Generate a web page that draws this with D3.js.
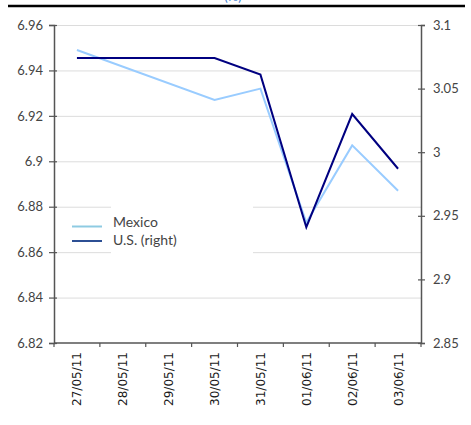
<!DOCTYPE html>
<html>
<head>
<meta charset="utf-8">
<script src="https://cdn.jsdelivr.net/npm/d3@7"></script>
<style>
  html, body { margin: 0; padding: 0; background: #fff; }
  svg { display: block; }
</style>
</head>
<body>
<svg id="chart" width="471" height="425"></svg>
<script>
// Daily dates (no quotes on the weekend of 28-29 May)
const dates = ["27/05/11", "28/05/11", "29/05/11", "30/05/11", "31/05/11", "01/06/11", "02/06/11", "03/06/11"];
const mexico = [6.949, null, null, 6.927, 6.932, 6.873, 6.907, 6.887];
const us = [3.074, null, null, 3.074, 3.061, 2.941, 3.030, 2.987];
const leftTicks = [6.82, 6.84, 6.86, 6.88, 6.9, 6.92, 6.94, 6.96];
const rightTicks = [2.85, 2.9, 2.95, 3, 3.05, 3.1];
const seriesNames = ["Mexico", "U.S. (right)"];
const colors = { mexico: "#99ccff", us: "#000080" };

const svg = d3.select("#chart");
const m = { left: 54, right: 421, top: 25, bottom: 343 };
const numFont = "Lato, 'Open Sans', sans-serif";

const x = d3.scaleBand().domain(dates).range([m.left, m.right]).padding(0);
const yL = d3.scaleLinear().domain([6.82, 6.96]).range([m.bottom, m.top]);
const yR = d3.scaleLinear().domain([2.85, 3.1]).range([m.bottom, m.top]);
const cx = d => x(d) + x.bandwidth() / 2;
const fmt = d => String(+d.toFixed(2));

// Header rule and partially visible heading
svg.append("text").attr("x", 233).attr("y", 0.5).attr("text-anchor", "middle")
  .attr("font-family", numFont).attr("font-size", 13).attr("fill", "#3f7fd0").text("(%)");
svg.append("line").attr("x1", 8).attr("x2", 465).attr("y1", 6).attr("y2", 6)
  .attr("stroke", "#000").attr("stroke-width", 2.5);

// Horizontal gridlines on the left-axis ticks
svg.append("g").selectAll("line").data(leftTicks.filter(t => t > 6.82)).join("line")
  .attr("x1", m.left).attr("x2", m.right)
  .attr("y1", d => yL(d) + 0.5).attr("y2", d => yL(d) + 0.5)
  .attr("stroke", "#dcdcdc").attr("stroke-width", 1);

// Left axis
const gL = svg.append("g").attr("transform", `translate(${m.left},0)`)
  .call(d3.axisLeft(yL).tickValues(leftTicks).tickFormat(fmt).tickSize(5).tickPadding(6));
gL.selectAll(".tick line").attr("x1", 3);
// Right axis
const gR = svg.append("g").attr("transform", `translate(${m.right},0)`)
  .call(d3.axisRight(yR).tickValues(rightTicks).tickFormat(fmt).tickSize(4).tickPadding(8));
gR.selectAll(".tick line").attr("x1", -3);
[gL, gR].forEach(g => {
  g.select(".domain").attr("stroke", "#555").attr("stroke-width", 1.5);
  g.selectAll(".tick line").attr("stroke", "#555").attr("stroke-width", 1.2);
  g.selectAll(".tick text").attr("font-family", numFont).attr("font-size", 13).attr("fill", "#444");
});

// Bottom axis: ticks on category boundaries, rotated labels in the band centres
svg.append("line").attr("x1", m.left).attr("x2", m.right).attr("y1", m.bottom).attr("y2", m.bottom)
  .attr("stroke", "#555").attr("stroke-width", 1.5);
const bounds = dates.map(d => x(d)).concat([x(dates[dates.length - 1]) + x.bandwidth()]);
svg.append("g").selectAll("line").data(bounds).join("line")
  .attr("x1", d => d).attr("x2", d => d).attr("y1", m.bottom).attr("y2", m.bottom + 4)
  .attr("stroke", "#555").attr("stroke-width", 1.2);
svg.append("g").selectAll("text").data(dates).join("text")
  .attr("transform", d => `translate(${cx(d) + 4.5},${m.bottom + 9}) rotate(-90)`)
  .attr("text-anchor", "end")
  .attr("font-family", "'DejaVu Sans', Verdana, sans-serif").attr("font-size", 12)
  .attr("fill", "#1a1a1a").text(d => d);

// Series lines (gaps on non-trading days are bridged)
const pts = vals => dates.map((d, i) => ({ d, v: vals[i] })).filter(p => p.v !== null);
svg.append("path").datum(pts(mexico))
  .attr("d", d3.line().x(p => cx(p.d)).y(p => yL(p.v)))
  .attr("fill", "none").attr("stroke", colors.mexico).attr("stroke-width", 2);
svg.append("path").datum(pts(us))
  .attr("d", d3.line().x(p => cx(p.d)).y(p => yR(p.v)))
  .attr("fill", "none").attr("stroke", colors.us).attr("stroke-width", 2);

// Legend
svg.append("rect").attr("x", 111).attr("y", 200).attr("width", 142).attr("height", 58).attr("fill", "#fff");
const leg = [
  { name: seriesNames[0], color: "#8ecbe2", y: 226.5, ty: 223 },
  { name: seriesNames[1], color: "#2c4f94", y: 241, ty: 241 }
];
const lg = svg.append("g").selectAll("g").data(leg).join("g");
lg.append("line").attr("x1", 72).attr("x2", 102).attr("y1", d => d.y).attr("y2", d => d.y)
  .attr("stroke", d => d.color).attr("stroke-width", 2);
lg.append("text").attr("x", 113).attr("y", d => d.ty).attr("dy", "0.32em")
  .attr("font-family", numFont).attr("font-size", 14).attr("fill", "#444").text(d => d.name);
</script>
</body>
</html>
